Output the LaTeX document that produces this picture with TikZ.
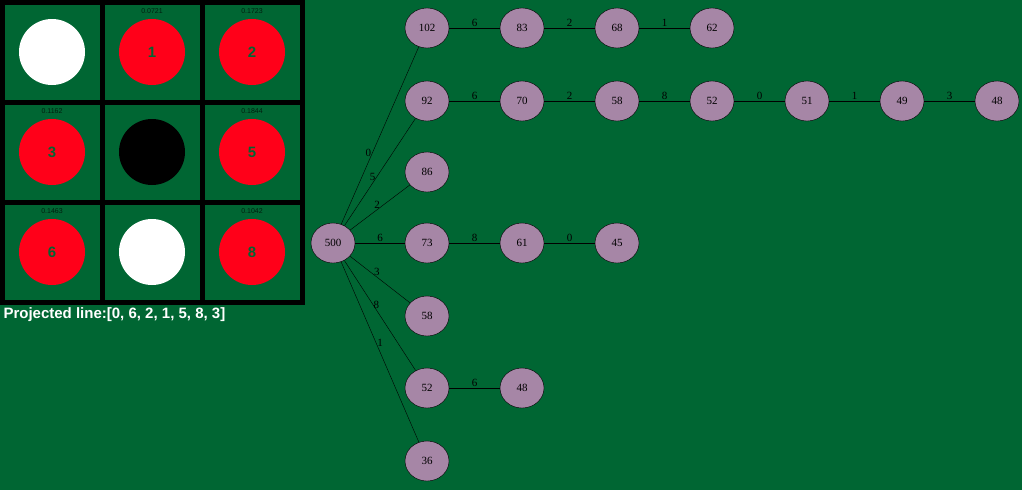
\documentclass[tikz,border=0pt]{standalone}
\usepackage{fontspec}
\setmainfont{Liberation Serif}
\newfontfamily\boardfont{Liberation Sans}
\usetikzlibrary{shapes.geometric}
\definecolor{felt}{RGB}{0,102,51}
\definecolor{mauve}{RGB}{166,134,166}
\definecolor{disc}{RGB}{255,0,25}
\tikzset{tnode/.style={draw, ellipse, fill=mauve, minimum width=44pt, minimum height=40pt, inner sep=0pt, font=\fontsize{11}{11}\selectfont},
  elab/.style={font=\fontsize{11}{11}\selectfont, inner sep=1pt},
  prob/.style={font=\boardfont\fontsize{7}{7}\selectfont, text=black!70!felt},
  num/.style={font=\boardfont\bfseries\fontsize{15}{15}\selectfont, text=felt}}
\begin{document}
\begin{tikzpicture}[x=1pt,y=-1pt]
    \fill[felt] (0,0) rectangle (1022,490);
    \useasboundingbox (0,0) rectangle (1022,490);
    % board
    \fill[black] (0,0) rectangle (305,305);
    \foreach \i in {0,1,2}
      \foreach \j in {0,1,2}
        \fill[felt] (5+100*\i,5+100*\j) rectangle (100+100*\i,100+100*\j);
    \fill[white] (52,52) circle (33);
    \fill[disc] (152,52) circle (33);
    \fill[disc] (252,52) circle (33);
    \fill[disc] (52,152) circle (33);
    \fill[black] (152,152) circle (33);
    \fill[disc] (252,152) circle (33);
    \fill[disc] (52,252) circle (33);
    \fill[white] (152,252) circle (33);
    \fill[disc] (252,252) circle (33);
    \foreach \x/\y/\n/\p in {152/52/1/0.0721, 252/52/2/0.1723, 52/152/3/0.1162, 252/152/5/0.1844, 52/252/6/0.1463, 252/252/8/0.1042} {
      \node[num] at (\x,\y) {\n};
      \node[prob] at (\x,\y-41) {\p};
    }
    \node[font=\boardfont\bfseries\fontsize{15}{15}\selectfont, text=white, anchor=west] (proj) at (0,315) {Projected line:[0, 6, 2, 1, 5, 8, 3]};

    % tree
    \node[tnode] (r) at (333,243) {500};
    \node[tnode] (a) at (427,28) {102};
    \node[tnode] (b) at (427,101) {92};
    \node[tnode] (c) at (427,172) {86};
    \node[tnode] (d) at (427,243) {73};
    \node[tnode] (e) at (427,316) {58};
    \node[tnode] (f) at (427,388) {52};
    \node[tnode] (g) at (427,461) {36};

    \node[tnode] (a1) at (522,28) {83};
    \node[tnode] (a2) at (617,28) {68};
    \node[tnode] (a3) at (712,28) {62};

    \node[tnode] (b1) at (522,101) {70};
    \node[tnode] (b2) at (617,101) {58};
    \node[tnode] (b3) at (712,101) {52};
    \node[tnode] (b4) at (807,101) {51};
    \node[tnode] (b5) at (902,101) {49};
    \node[tnode] (b6) at (997,101) {48};

    \node[tnode] (d1) at (522,243) {61};
    \node[tnode] (d2) at (617,243) {45};

    \node[tnode] (f1) at (522,388) {48};

    \draw (r) -- (a) node[elab, pos=0.4, left] {0};
    \draw (r) -- (b) node[elab, pos=0.45, left] {5};
    \draw (r) -- (c) node[elab, pos=0.45, above] {2};
    \draw (r) -- (d) node[elab, midway, above] {6};
    \draw (r) -- (e) node[elab, pos=0.45, above] {3};
    \draw (r) -- (f) node[elab, pos=0.45, above] {8};
    \draw (r) -- (g) node[elab, pos=0.45, right] {1};

    \draw (a) -- (a1) node[elab, midway, above] {6};
    \draw (a1) -- (a2) node[elab, midway, above] {2};
    \draw (a2) -- (a3) node[elab, midway, above] {1};

    \draw (b) -- (b1) node[elab, midway, above] {6};
    \draw (b1) -- (b2) node[elab, midway, above] {2};
    \draw (b2) -- (b3) node[elab, midway, above] {8};
    \draw (b3) -- (b4) node[elab, midway, above] {0};
    \draw (b4) -- (b5) node[elab, midway, above] {1};
    \draw (b5) -- (b6) node[elab, midway, above] {3};

    \draw (d) -- (d1) node[elab, midway, above] {8};
    \draw (d1) -- (d2) node[elab, midway, above] {0};

    \draw (f) -- (f1) node[elab, midway, above] {6};
\end{tikzpicture}
\end{document}
